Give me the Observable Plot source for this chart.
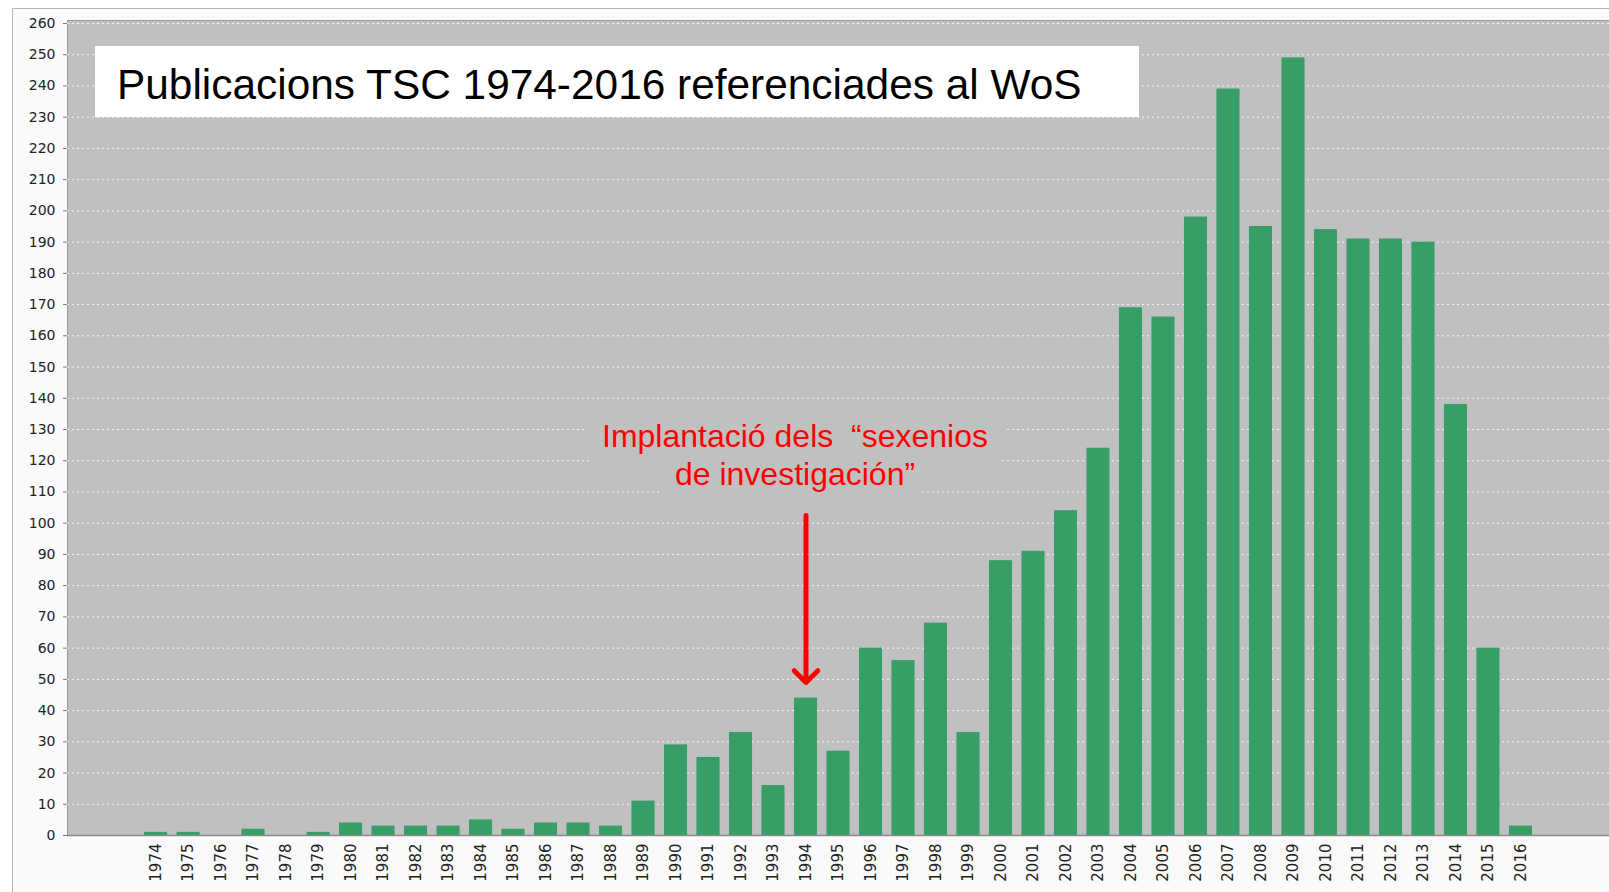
<!DOCTYPE html>
<html><head><meta charset="utf-8">
<script src="https://cdn.jsdelivr.net/npm/d3@7"></script>
<script src="https://cdn.jsdelivr.net/npm/@observablehq/plot@0.6"></script>
<style>
html,body{margin:0;padding:0;background:#fff;}
#wrap{position:relative;width:1609px;height:892px;overflow:hidden;}
#frame{position:absolute;left:12px;top:8px;right:-4px;bottom:-4px;border:1.5px solid #b8b8b8;background:#fafafa;}
#chart{position:absolute;left:0;top:0;}
#title{position:absolute;left:95px;top:46px;width:1044px;height:71px;background:#fff;box-sizing:border-box;padding:18px 0 0 22px;font-family:"Liberation Sans",Arial,sans-serif;font-size:42.4px;line-height:1;color:#000;white-space:nowrap;}
</style></head><body>
<div id="wrap"><div id="frame"></div><div id="chart"></div><div id="title">Publicacions TSC 1974-2016 referenciades al WoS</div></div>
<script>
const years = [1974,1975,1976,1977,1978,1979,1980,1981,1982,1983,1984,1985,1986,1987,1988,1989,1990,1991,1992,1993,1994,1995,1996,1997,1998,1999,2000,2001,2002,2003,2004,2005,2006,2007,2008,2009,2010,2011,2012,2013,2014,2015,2016];
const counts = [1,1,0,2,0,1,4,3,3,3,5,2,4,4,3,11,29,25,33,16,44,27,60,56,68,33,88,91,104,124,169,166,198,239,195,249,194,191,191,190,138,60,3];
const yTicks = [0,10,20,30,40,50,60,70,80,90,100,110,120,130,140,150,160,170,180,190,200,210,220,230,240,250,260];
const annotationText = ["Implantació dels  “sexenios\nde investigación”"];
const annotationYear = [1994];
const annotationTextY = [122.3];
const arrowFrom = [102.5];
const arrowTo = [49];

const table = years.map((year, i) => ({year, count: counts[i]}));
const annot = annotationText.map((text, i) => ({text, year: annotationYear[i], y: annotationTextY[i], from: arrowFrom[i], to: arrowTo[i]}));

const textOpts = {x: "year", y: "y", text: "text", fontSize: 32, fontFamily: "Liberation Sans, Arial, sans-serif", lineHeight: 1.19, dx: -11};

const chart = Plot.plot({
  width: 1609, height: 892,
  marginLeft: 67, marginRight: 0, marginTop: 20, marginBottom: 57,
  style: {background: "transparent", fontFamily: "DejaVu Sans", fontSize: "14px", color: "#222"},
  x: {type: "band", domain: years, paddingInner: 0.29, paddingOuter: 0, round: false, insetLeft: 77, insetRight: 77, label: null},
  y: {domain: [0, 260], insetTop: 3, label: null},
  marks: [
    Plot.frame({fill: "#c0c0c0", stroke: "#9a9a9a"}),
    Plot.gridY(yTicks, {stroke: "#ffffff", strokeOpacity: 0.85, strokeDasharray: "2,3", strokeWidth: 1}),
    Plot.barY(table, {x: "year", y: "count", fill: "#389e68"}),
    Plot.ruleY([0], {stroke: "#8a8a8a", strokeWidth: 1.5}),
    Plot.axisY(yTicks, {tickSize: 4, tickPadding: 8, fontSize: 14, stroke: "#777", fill: "#222"}),
    Plot.axisX({tickSize: 0, tickPadding: 8, tickRotate: -90, fontSize: 15, fill: "#222", tickFormat: d => String(d)}),
    Plot.text(annot, {...textOpts, fill: "#c0c0c0", stroke: "#c0c0c0", strokeWidth: 40, strokeLinejoin: "round"}),
    Plot.text(annot, {...textOpts, fill: "red"}),
    Plot.arrow(annot, {x1: "year", x2: "year", y1: "from", y2: "to", stroke: "red", strokeWidth: 5, headLength: 5, headAngle: 90})
  ]
});
document.getElementById("chart").appendChild(chart);
</script>
</body></html>
